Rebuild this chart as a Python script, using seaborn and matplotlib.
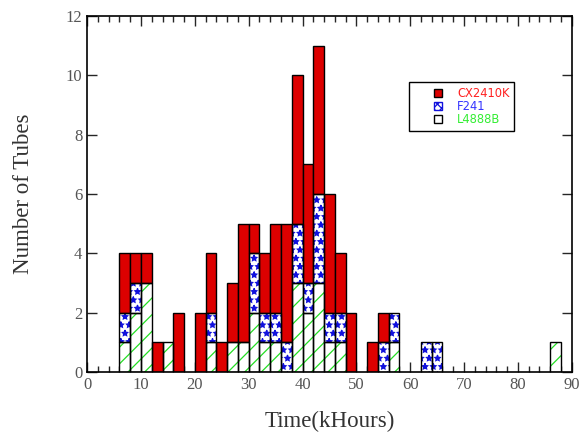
import numpy as np
import pandas as pd
import matplotlib
matplotlib.use("Agg")
import matplotlib.pyplot as plt
from matplotlib.patches import Patch, Rectangle
from matplotlib.legend_handler import HandlerPatch
from matplotlib.ticker import MultipleLocator
import seaborn as sns

# ---- data (bin left edges in kHours, 2 kHour bins) ----
bin_left = [6, 8, 10, 12, 14, 16, 18, 20, 22, 24, 26, 28, 30, 32, 34, 36, 38, 40,
            42, 44, 46, 48, 50, 52, 54, 56, 62, 64, 86]
cx2410k  = [2, 1, 1, 1, 0, 2, 0, 2, 2, 1, 2, 4, 1, 2, 3, 4, 5, 4,
            5, 4, 2, 2, 0, 1, 1, 0, 0, 0, 0]
f241     = [1, 1, 0, 0, 0, 0, 0, 0, 1, 0, 0, 0, 2, 1, 1, 1, 2, 1,
            3, 1, 1, 0, 0, 0, 1, 1, 1, 1, 0]
l4888b   = [1, 2, 3, 0, 1, 0, 0, 0, 1, 0, 1, 1, 2, 1, 1, 0, 3, 2,
            3, 1, 1, 0, 0, 0, 0, 1, 0, 0, 1]
series_names = ["CX2410K", "F241", "L4888B"]
bin_width = 2
x_ticks = [0, 10, 20, 30, 40, 50, 60, 70, 80, 90]
y_ticks = [0, 2, 4, 6, 8, 10, 12]

rows = []
for name, vals in zip(series_names, [cx2410k, f241, l4888b]):
    for b, v in zip(bin_left, vals):
        rows.append({"time": b + bin_width / 2, "count": float(v), "type": name})
df = pd.DataFrame(rows)

RED = "#dd0000"
BLUE = "#1010dd"
GREEN = "#22dd22"
face = {"CX2410K": RED, "F241": "white", "L4888B": "white"}
hatch = {"CX2410K": None, "F241": "**", "L4888B": "//"}
hcol = {"CX2410K": "black", "F241": BLUE, "L4888B": GREEN}

sns.set_style("ticks")
plt.rcParams["font.family"] = ["Liberation Serif", "DejaVu Serif"]
plt.rcParams["hatch.linewidth"] = 0.9

fig = plt.figure(figsize=(5.81, 4.38), dpi=100)
ax = fig.add_axes([0.150, 0.151, 0.834, 0.812])

sns.histplot(data=df, x="time", weights="count", hue="type",
             hue_order=series_names, multiple="stack",
             binwidth=bin_width, binrange=(0, 90),
             palette={"CX2410K": RED, "F241": BLUE, "L4888B": GREEN}, alpha=1,
             edgecolor="black", linewidth=1, legend=False, ax=ax)

# map each container to its series via its face colour
col2name = {matplotlib.colors.to_hex(RED): "CX2410K",
            matplotlib.colors.to_hex(BLUE): "F241",
            matplotlib.colors.to_hex(GREEN): "L4888B"}

for cont in ax.containers:
    patches = list(cont)
    name = col2name.get(matplotlib.colors.to_hex(patches[0].get_facecolor()), None)
    for p in patches:
        if p.get_height() <= 0:
            p.set_visible(False)
            continue
        p.set_facecolor(face[name])
        if hatch[name]:
            p.set_hatch(hatch[name])
            p.set_edgecolor(hcol[name])
            p.set_linewidth(0)
            ax.add_patch(Rectangle(p.get_xy(), p.get_width(), p.get_height(),
                                   fill=False, edgecolor="black", linewidth=1,
                                   zorder=p.get_zorder() + 0.1))

ax.set_xlim(0, 90)
ax.set_ylim(0, 12)
ax.set_xticks(x_ticks)
ax.set_yticks(y_ticks)
ax.xaxis.set_minor_locator(MultipleLocator(2))
ax.tick_params(which="both", direction="in", top=True, right=True,
               labelsize=12, labelcolor="#555555", width=1)
ax.tick_params(which="major", length=7)
ax.tick_params(which="minor", length=4)
for s in ax.spines.values():
    s.set_linewidth(1.2)
    s.set_color("black")

ax.set_xlabel("Time(kHours)", fontsize=16.5, color="#333333", labelpad=13)
ax.set_ylabel("Number of Tubes", fontsize=16.5, color="#333333", labelpad=23)


def small_square(legend, orig_handle, xdescent, ydescent, width, height, fontsize):
    s = 6.0
    return Rectangle((width - s - xdescent - 0.5, (height - s) / 2 - ydescent), s, s)


handles = [Patch(facecolor=RED, edgecolor="black", label="CX2410K"),
           Patch(facecolor="white", edgecolor=BLUE, hatch="xxxx", label="F241"),
           Patch(facecolor="white", edgecolor="black", label="L4888B")]
leg = ax.legend(handles=handles, loc="upper left", bbox_to_anchor=(0.664, 0.815),
                borderaxespad=0, fancybox=False, framealpha=1, edgecolor="black",
                handlelength=2.55, handleheight=0.7, handletextpad=1.2,
                labelspacing=0.02, borderpad=0.42,
                handler_map={Patch: HandlerPatch(patch_func=small_square)},
                prop={"family": "DejaVu Sans", "size": 8.3})
leg.get_frame().set_linewidth(1)
for t, c in zip(leg.get_texts(), ["#ff2020", "#3333ff", "#33ee33"]):
    t.set_color(c)
for h in leg.legend_handles:
    h.set_linewidth(1)

fig.savefig("out.png", dpi=100)
